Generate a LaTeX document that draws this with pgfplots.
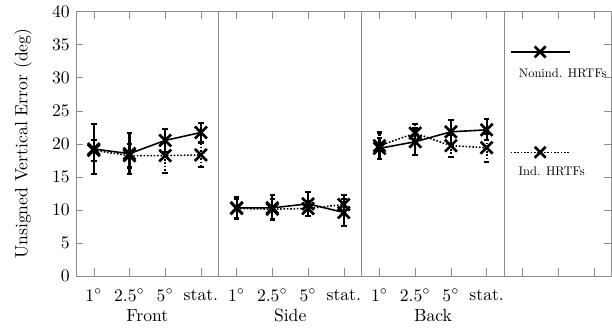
\documentclass[border=0pt]{standalone}
\usepackage{graphicx}
\usepackage{pgfplots}
\pgfplotsset{compat=1.18}
\begin{document}
\begin{tikzpicture}
\begin{axis}[
  scale only axis,
  width=304pt, height=150pt,
  xmin=0.5, xmax=15.5, ymin=0, ymax=40,
  ytick={0,5,...,40},
  xtick={1,...,15},
  xticklabels={$1^\circ$,$2.5^\circ$,$5^\circ$,stat.,$1^\circ$,$2.5^\circ$,$5^\circ$,stat.,$1^\circ$,$2.5^\circ$,$5^\circ$,stat.,,,},
  xticklabel style={yshift=-4pt},
  extra x ticks={4.5,8.5,12.5},
  extra x tick labels={},
  extra x tick style={grid=major, major grid style={black!45, line width=0.5pt}, major tick length=0pt},
  axis line style={black!45},
  tick style={black!45},
  ylabel={Unsigned Vertical Error (deg)},
  ylabel style={inner sep=8pt},
  clip=false,
  error bars/y dir=both,
  error bars/y explicit,
  error bars/error bar style={line width=1.2pt},
  error bars/error mark options={rotate=90, mark size=1.6pt, line width=1.2pt},
]
\pgfplotsset{indstyle/.style={black, densely dotted, line width=0.9pt, mark=x, mark size=4.8pt, mark options={solid, line width=1.5pt}}}
\pgfplotsset{nonstyle/.style={black, solid, line width=0.9pt, mark=x, mark size=4.8pt, mark options={solid, line width=1.5pt}}}
% Ind. HRTFs (dotted)
\addplot[indstyle] coordinates {(1,19.0) +- (0,1.6) (2,18.2) +- (0,1.8) (3,18.2) +- (0,2.6) (4,18.3) +- (0,1.8)};
\addplot[indstyle] coordinates {(5,10.2) +- (0,1.4) (6,10.1) +- (0,1.5) (7,10.2) +- (0,1.1) (8,10.8) +- (0,1.5)};
\addplot[indstyle] coordinates {(9,19.7) +- (0,2.0) (10,21.6) +- (0,1.4) (11,19.7) +- (0,1.7) (12,19.4) +- (0,2.1)};
% Nonind. HRTFs (solid)
\addplot[nonstyle] coordinates {(1,19.2) +- (0,3.8) (2,18.5) +- (0,3.1) (3,20.5) +- (0,1.7) (4,21.7) +- (0,1.5)};
\addplot[nonstyle] coordinates {(5,10.3) +- (0,1.7) (6,10.3) +- (0,1.9) (7,10.9) +- (0,1.8) (8,9.6) +- (0,2.1)};
\addplot[nonstyle] coordinates {(9,19.3) +- (0,1.6) (10,20.3) +- (0,2.0) (11,21.8) +- (0,1.8) (12,22.1) +- (0,1.6)};
% legend drawn in the fourth panel
\addplot[black, solid, line width=0.9pt, no marks, forget plot] coordinates {(12.67,33.9) (14.33,33.9)};
\addplot[black, only marks, mark=x, mark size=4.4pt, mark options={line width=1.5pt}, forget plot] coordinates {(13.5,33.9)};
\addplot[black, densely dotted, line width=0.9pt, no marks, forget plot] coordinates {(12.67,18.7) (14.33,18.7)};
\addplot[black, only marks, mark=x, mark size=4.4pt, mark options={line width=1.5pt}, forget plot] coordinates {(13.5,18.7)};
\node[inner sep=0pt] at (axis cs:14.13,30.6) {\scalebox{0.71}{Nonind. HRTFs}};
\node[inner sep=0pt] at (axis cs:13.82,15.9) {\scalebox{0.71}{Ind. HRTFs}};
% group labels
\node[anchor=base] at (axis cs:2.5,0) [yshift=-26pt] {Front};
\node[anchor=base] at (axis cs:6.5,0) [yshift=-26pt] {Side};
\node[anchor=base] at (axis cs:10.5,0) [yshift=-26pt] {Back};
\end{axis}
\end{tikzpicture}
\end{document}
